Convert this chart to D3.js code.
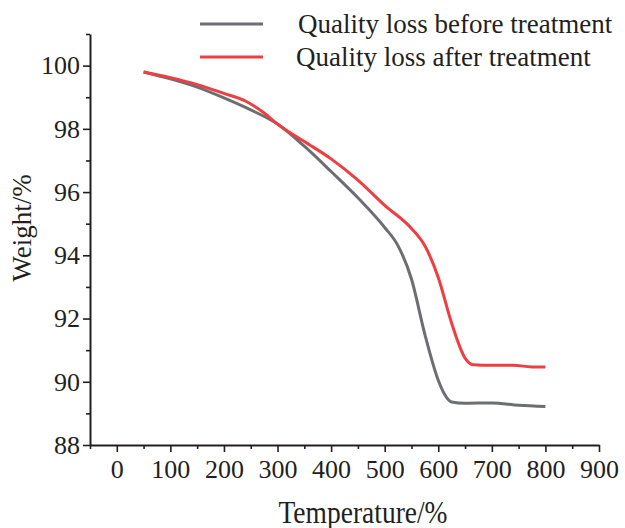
<!DOCTYPE html>
<html>
<head>
<meta charset="utf-8">
<script src="https://cdnjs.cloudflare.com/ajax/libs/d3/7.8.5/d3.min.js"></script>
<style>
  body { margin: 0; background: #fff; }
  text { font-family: "Liberation Serif", "Times New Roman", serif; fill: #231f20; }
</style>
</head>
<body>
<svg id="chart" width="625" height="528"></svg>
<script>
// temperature readings (°C) and weight (%)
const tempBefore = [50, 100, 150, 200, 250, 300, 350, 400, 450, 500, 525, 550, 575, 600, 612, 625, 650, 700, 750, 800];
const weightBefore = [99.80, 99.58, 99.32, 98.98, 98.60, 98.15, 97.45, 96.65, 95.82, 94.88, 94.30, 93.25, 91.50, 90.05, 89.60, 89.36, 89.32, 89.33, 89.26, 89.22];

const tempAfter = [50, 100, 150, 200, 240, 275, 300, 350, 400, 450, 500, 550, 575, 600, 625, 650, 665, 700, 740, 775, 800];
const weightAfter = [99.80, 99.62, 99.40, 99.12, 98.88, 98.50, 98.15, 97.60, 97.05, 96.38, 95.58, 94.85, 94.30, 93.30, 91.85, 90.75, 90.54, 90.52, 90.52, 90.47, 90.47];

const seriesNames = ["Quality loss before treatment", "Quality loss after treatment"];
const seriesColors = ["#6d6e71", "#ef3e42"];

const xMajor = [0, 100, 200, 300, 400, 500, 600, 700, 800, 900];
const xMinor = [-50, 50, 150, 250, 350, 450, 550, 650, 750, 850];
const yMajor = [88, 90, 92, 94, 96, 98, 100];
const yMinor = [89, 91, 93, 95, 97, 99, 101];

const svg = d3.select("#chart");

const x = d3.scaleLinear().domain([-50, 900]).range([90, 599]);
const y = d3.scaleLinear().domain([88, 101]).range([445, 34]);

// minor ticks first, then the major axis on top
svg.append("g")
    .attr("transform", "translate(0,445)")
    .call(d3.axisBottom(x).tickValues(xMinor).tickSize(4).tickFormat(""))
    .call(g => g.select(".domain").remove())
    .selectAll("line").attr("stroke", "#231f20").attr("stroke-width", 1.6);

svg.append("g")
    .attr("transform", "translate(90,0)")
    .call(d3.axisLeft(y).tickValues(yMinor).tickSize(4).tickFormat(""))
    .call(g => g.select(".domain").remove())
    .selectAll("line").attr("stroke", "#231f20").attr("stroke-width", 1.6);

const xAxis = svg.append("g")
    .attr("transform", "translate(0,445)")
    .call(d3.axisBottom(x).tickValues(xMajor).tickSize(7).tickSizeOuter(0).tickPadding(8));

const yAxis = svg.append("g")
    .attr("transform", "translate(90,0)")
    .call(d3.axisLeft(y).tickValues(yMajor).tickSize(7).tickSizeOuter(0).tickPadding(3));

[xAxis, yAxis].forEach(a => {
  a.select(".domain").attr("stroke", "#231f20").attr("stroke-width", 2);
  a.selectAll(".tick line").attr("stroke", "#231f20").attr("stroke-width", 1.6);
  a.selectAll(".tick text")
    .style("font-family", '"Liberation Serif", serif')
    .style("font-size", "26px")
    .attr("fill", "#231f20");
});

// curves
const line = d3.line()
    .x(d => x(d[0]))
    .y(d => y(d[1]))
    .curve(d3.curveMonotoneX);

const series = [
  d3.zip(tempBefore, weightBefore),
  d3.zip(tempAfter, weightAfter)
];

svg.selectAll(".curve")
  .data(series)
  .enter().append("path")
    .attr("class", "curve")
    .attr("fill", "none")
    .attr("stroke", (d, i) => seriesColors[i])
    .attr("stroke-width", 3)
    .attr("stroke-linejoin", "round")
    .attr("d", line);

// legend
const legend = svg.selectAll(".legend")
  .data(seriesNames)
  .enter().append("g")
    .attr("class", "legend")
    .attr("transform", (d, i) => "translate(200," + (24 + i * 33) + ")");

legend.append("line")
    .attr("x1", 0).attr("x2", 63)
    .attr("stroke", (d, i) => seriesColors[i])
    .attr("stroke-width", 3);

legend.append("text")
    .attr("x", (d, i) => i === 0 ? 98 : 96)
    .attr("y", 9)
    .style("font-size", "27px")
    .text(d => d);

// axis titles
svg.append("text")
    .attr("transform", "translate(363,523) scale(1,1.15)")
    .attr("text-anchor", "middle")
    .style("font-size", "27.5px")
    .text("Temperature/%");

svg.append("text")
    .attr("transform", "translate(31,228) rotate(-90)")
    .attr("text-anchor", "middle")
    .style("font-size", "27px")
    .text("Weight/%");
</script>
</body>
</html>
